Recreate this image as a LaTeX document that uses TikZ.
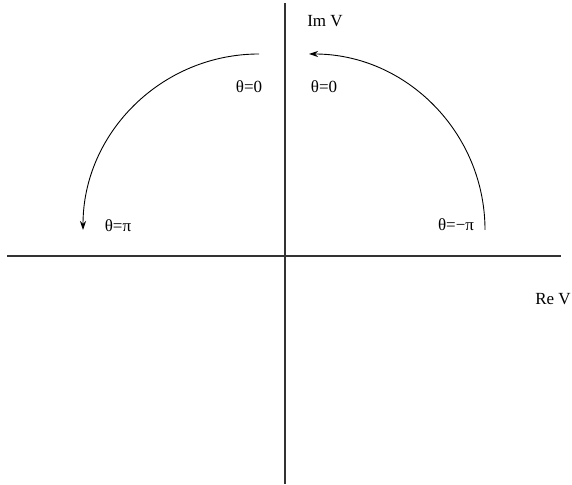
\documentclass[tikz,border=0pt]{standalone}
\usepackage{fontspec}
\setmainfont{Liberation Serif}
\usetikzlibrary{arrows.meta}

\begin{document}
\begin{tikzpicture}[
    x=1pt, y=1pt,
    axis/.style={line width=1.6pt, draw=black!80},
    arrow/.style={-{Stealth[length=9pt, width=6pt]}, line width=0.9pt},
    lbl/.style={inner sep=0pt, font=\fontsize{17}{20}\selectfont}
]
\useasboundingbox (0,0) rectangle (572,484);
% axes
\coordinate (xl) at (7,228);
\coordinate (xr) at (561,228);
\coordinate (yb) at (285,0);
\coordinate (yt) at (285,481);
\draw[axis] (xl) -- (xr);
\draw[axis] (yb) -- (yt);
\node[lbl] (imv) at (325,463) {Im V};
\node[lbl] (rev) at (553,185) {Re V};

% the two quarter turns
\coordinate (ls) at (259,430);
\coordinate (rs) at (485,254);
\draw[arrow] (ls) arc[start angle=90, end angle=180, radius=176];
\draw[arrow] (rs) arc[start angle=0, end angle=90, radius=176];
\node[lbl] (lzero) at (249,397) {θ=0};
\node[lbl] (rzero) at (324,397) {θ=0};
\node[lbl] (lpi) at (118,258) {θ=π};
\node[lbl] (rpi) at (456,259) {θ=−π};
\end{tikzpicture}
\end{document}
